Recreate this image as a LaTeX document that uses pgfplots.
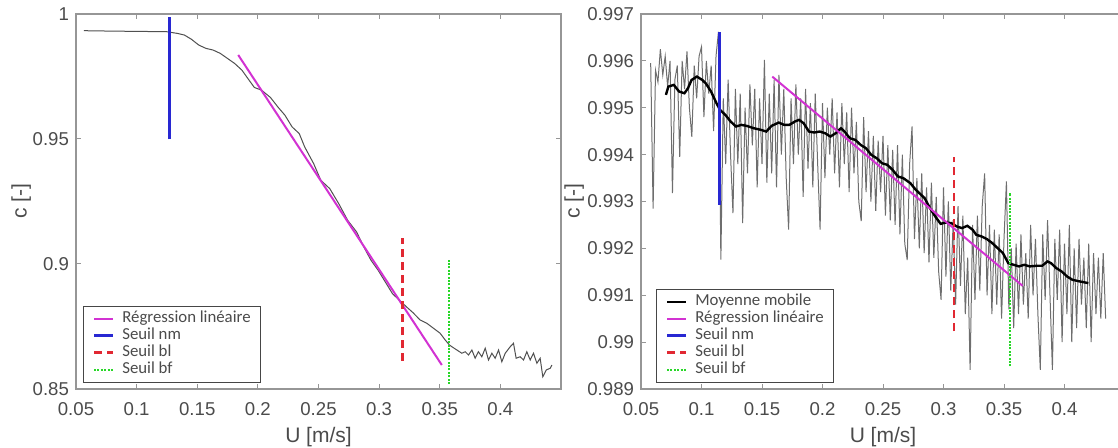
\documentclass[border=0pt]{standalone}
\usepackage{fontspec}
\setmainfont{Liberation Sans}
\newfontfamily\carlito{Carlito}
\usepackage{pgfplots}
\pgfplotsset{compat=1.18}

\definecolor{axgray}{RGB}{150,150,150}
\definecolor{txtgray}{RGB}{75,75,75}
\definecolor{cmag}{RGB}{210,50,210}
\definecolor{cblue}{RGB}{40,40,210}
\definecolor{cred}{RGB}{225,40,50}
\definecolor{cgreen}{RGB}{40,215,40}
\definecolor{cdata}{RGB}{80,80,80}
\definecolor{cnoise}{RGB}{110,110,110}
\definecolor{legdraw}{RGB}{70,70,70}

\pgfplotsset{
  mystyle/.style={
    scale only axis, height=187.5pt, anchor=south west,
    axis line style={axgray, line width=0.6pt},
    tick style={axgray, line width=0.5pt},
    major tick length=2.5pt,
    tick align=inside,
    ticklabel style={font=\fontsize{9.3}{10}\selectfont, text=txtgray},
    scaled x ticks=false, scaled y ticks=false,
    xmin=0.05, xmax=0.45,
    xtick={0.05,0.1,0.15,0.2,0.25,0.3,0.35,0.4},
    xticklabels={0.05,0.1,0.15,0.2,0.25,0.3,0.35,0.4},
    xticklabel style={anchor=center, yshift=-10pt},
    xlabel={U [m/s]},
    xlabel style={at={(axis description cs:0.5,-0.128)}, anchor=center},
    ylabel={c [-]},
    label style={font=\fontsize{10.5}{12}\selectfont, text=txtgray},
    legend cell align=left,
    legend image code/.code={\draw[##1] (0pt,0pt) -- (9.5pt,0pt);},
    legend style={at={(axis description cs:0,0)}, anchor=south west, xshift=3.5pt, yshift=3pt,
      draw=legdraw, line width=0.7pt, fill=white,
      font=\carlito\fontsize{8.4}{9}\selectfont, text=txtgray,
      inner xsep=4.5pt, inner ysep=2pt, row sep=0pt,
      nodes={text height=5.8pt, text depth=1.7pt, inner sep=0.5pt},
      /tikz/every odd column/.append style={column sep=3.5pt}},
  }
}

\begin{document}
\begin{tikzpicture}
%%%%%%%%%%%%%%%% LEFT %%%%%%%%%%%%%%%%
\begin{axis}[mystyle, at={(38pt,29.5pt)}, width=242.5pt,
  ymin=0.85, ymax=1, ytick={0.85,0.9,0.95,1},
  yticklabels={0.85,0.9,0.95,1},
  ylabel style={at={(axis description cs:-0.113,0.5)}, anchor=center},
]
\addplot[cdata, line width=0.5pt, forget plot] coordinates {
(0.0565,0.99332)(0.0743,0.99319)(0.0980,0.99305)(0.1246,0.99292)(0.1335,0.99225)
(0.1394,0.99158)(0.1453,0.98985)(0.1512,0.98758)(0.1572,0.98624)(0.1631,0.98557)
(0.1690,0.98424)(0.1749,0.98223)(0.1808,0.98023)(0.1868,0.97756)(0.1927,0.97355)
(0.1971,0.97061)(0.2030,0.96954)(0.2104,0.96660)(0.2164,0.96286)(0.2223,0.95952)
(0.2282,0.95485)(0.2341,0.95218)(0.2386,0.94683)(0.2460,0.94015)(0.2519,0.93348)
(0.2593,0.93014)(0.2667,0.92412)(0.2741,0.91745)(0.2815,0.91277)(0.2874,0.90676)
(0.2934,0.90142)(0.2993,0.89741)(0.3052,0.89273)(0.3111,0.88806)(0.3170,0.88539)
(0.3229,0.88271)(0.3280,0.88050)(0.3338,0.8776)(0.3393,0.8763)(0.3448,0.8743)
(0.3503,0.8723)(0.3545,0.8696)(0.3580,0.8676)
(0.3600,0.8669)(0.3641,0.8656)(0.3682,0.8643)(0.3710,0.8649)(0.3737,0.8636)
(0.3765,0.8656)(0.3792,0.8623)(0.3819,0.8649)(0.3847,0.8629)(0.3875,0.8663)
(0.3902,0.8616)(0.3930,0.8643)(0.3957,0.8623)(0.3985,0.8656)(0.4012,0.8609)
(0.4040,0.8643)(0.4081,0.8669)(0.4108,0.8683)(0.4130,0.8623)(0.4163,0.8629)
(0.4191,0.8616)(0.4218,0.8649)(0.4246,0.8616)(0.4273,0.8643)(0.4301,0.8603)
(0.4328,0.8623)(0.4350,0.8549)(0.4378,0.8576)(0.4411,0.8583)(0.4425,0.8596)
};
\addplot[cmag, line width=1pt] coordinates {(0.1838,0.9836)(0.3517,0.8596)};
\addlegendentry{Régression linéaire}
\addplot[cblue, line width=1.3pt] coordinates {(0.127,0.9498)(0.127,0.9987)};
\addlegendentry{Seuil nm}
\addplot[cred, line width=1.3pt, dash pattern=on 4pt off 2.5pt] coordinates {(0.3194,0.8611)(0.3194,0.9105)};
\addlegendentry{Seuil bl}
\addplot[cgreen, line width=1pt, dash pattern=on 1pt off 0.7pt] coordinates {(0.358,0.8520)(0.358,0.9014)};
\addlegendentry{Seuil bf}
\end{axis}

%%%%%%%%%%%%%%%% RIGHT %%%%%%%%%%%%%%%%
\begin{axis}[mystyle, at={(320.5pt,29.5pt)}, width=242pt,
  ymin=0.989, ymax=0.997,
  ytick={0.989,0.99,0.991,0.992,0.993,0.994,0.995,0.996,0.997},
  yticklabels={0.989,0.99,0.991,0.992,0.993,0.994,0.995,0.996,0.997},
  ylabel style={at={(axis description cs:-0.138,0.5)}, anchor=center},
  legend style={xshift=4pt},
]
\addplot[cnoise, line width=0.5pt, forget plot] coordinates {
(0.058,0.99595)(0.060,0.99285)(0.062,0.99580)(0.064,0.99555)(0.066,0.99625)
(0.068,0.99570)(0.070,0.99610)(0.072,0.99545)(0.074,0.99600)(0.076,0.99318)
(0.078,0.99560)(0.080,0.99590)(0.082,0.99395)(0.084,0.99600)(0.086,0.99540)
(0.088,0.99620)(0.090,0.99500)(0.092,0.99438)(0.094,0.99590)(0.096,0.99520)
(0.098,0.99610)(0.100,0.99630)(0.102,0.99480)(0.104,0.99600)(0.106,0.99530)
(0.108,0.99590)(0.110,0.99450)(0.112,0.99610)(0.114,0.99662)(0.116,0.99176)
(0.118,0.99520)(0.120,0.99380)(0.122,0.99560)(0.124,0.99400)(0.126,0.99275)
(0.128,0.99540)(0.130,0.99380)(0.132,0.99530)(0.134,0.99254)(0.136,0.99500)
(0.138,0.99360)(0.140,0.99550)(0.142,0.99420)(0.144,0.99540)(0.146,0.99330)
(0.148,0.99520)(0.150,0.99380)(0.152,0.99602)(0.154,0.99340)(0.156,0.99530)
(0.158,0.99360)(0.160,0.99560)(0.162,0.99330)(0.164,0.99570)(0.166,0.99400)
(0.168,0.99540)(0.170,0.99350)(0.172,0.99240)(0.174,0.99520)(0.176,0.99380)
(0.178,0.99550)(0.180,0.99400)(0.182,0.99520)(0.184,0.99310)(0.186,0.99540)
(0.188,0.99370)(0.190,0.99510)(0.192,0.99330)(0.194,0.99530)(0.196,0.99380)
(0.198,0.99240)(0.200,0.99510)(0.202,0.99350)(0.204,0.99500)(0.206,0.99400)
(0.208,0.99520)(0.210,0.99360)(0.212,0.99490)(0.214,0.99330)(0.216,0.99510)
(0.218,0.99380)(0.220,0.99490)(0.222,0.99320)(0.224,0.99500)(0.226,0.99360)
(0.228,0.99470)(0.230,0.99300)(0.232,0.99258)(0.234,0.99480)(0.236,0.99320)
(0.238,0.99450)(0.240,0.99300)(0.242,0.99440)(0.244,0.99280)(0.246,0.99430)
(0.248,0.99320)(0.250,0.99440)(0.252,0.99270)(0.254,0.99420)(0.256,0.99260)
(0.258,0.99410)(0.260,0.99250)(0.262,0.99420)(0.264,0.99230)(0.266,0.99400)
(0.268,0.99210)(0.270,0.99175)(0.272,0.99380)(0.274,0.99460)(0.276,0.99220)
(0.278,0.99350)(0.280,0.99200)(0.282,0.99360)(0.284,0.99190)(0.286,0.99330)
(0.288,0.99170)(0.290,0.99340)(0.292,0.99180)(0.294,0.99310)(0.296,0.99150)
(0.298,0.99090)(0.300,0.99330)(0.302,0.99140)(0.304,0.99300)(0.306,0.99110)
(0.308,0.99260)(0.310,0.99080)(0.312,0.99290)(0.314,0.99120)(0.316,0.99270)
(0.318,0.99060)(0.320,0.99180)(0.322,0.98941)(0.324,0.99250)(0.326,0.99090)
(0.328,0.99270)(0.330,0.99110)(0.332,0.99290)(0.334,0.99360)(0.336,0.99100)
(0.338,0.99250)(0.340,0.99060)(0.342,0.99240)(0.344,0.99080)(0.346,0.99230)
(0.348,0.99050)(0.350,0.99220)(0.352,0.99343)(0.354,0.99070)(0.356,0.99200)
(0.358,0.99030)(0.360,0.99210)(0.362,0.99060)(0.364,0.99230)(0.366,0.99080)
(0.368,0.99190)(0.370,0.99050)(0.372,0.99250)(0.374,0.99100)(0.376,0.99220)
(0.378,0.99060)(0.380,0.98941)(0.382,0.99230)(0.384,0.99090)(0.386,0.99260)
(0.388,0.99100)(0.390,0.98941)(0.392,0.99220)(0.394,0.99090)(0.396,0.99240)
(0.398,0.99000)(0.400,0.99210)(0.402,0.99060)(0.404,0.99250)(0.406,0.99000)
(0.408,0.99200)(0.410,0.99030)(0.412,0.99220)(0.414,0.99080)(0.416,0.99180)
(0.418,0.99030)(0.420,0.99210)(0.422,0.99000)(0.424,0.99190)(0.426,0.99060)
(0.428,0.99180)(0.430,0.99050)(0.432,0.99190)(0.434,0.99050)
};
\addplot[black, line width=1.2pt] coordinates {
(0.0706,0.995274)(0.0726,0.995451)(0.0771,0.995487)(0.0815,0.995345)(0.0859,0.995309)
(0.0888,0.995416)(0.0918,0.995593)(0.0962,0.995664)(0.1006,0.995593)(0.1035,0.995522)
(0.1079,0.995345)(0.1124,0.995096)(0.1153,0.994954)(0.1197,0.994847)(0.1241,0.994705)
(0.1285,0.994599)(0.1329,0.994634)(0.1374,0.994613)(0.1432,0.994563)(0.1491,0.994528)
(0.1535,0.994492)(0.1579,0.994613)(0.1638,0.994684)(0.1682,0.994634)(0.1726,0.994634)
(0.1771,0.994705)(0.1806,0.994741)(0.1844,0.994670)(0.1888,0.994492)(0.1932,0.994471)
(0.1976,0.994492)(0.2021,0.994457)(0.2065,0.994385)(0.2109,0.994457)(0.2153,0.994563)
(0.2182,0.994492)(0.2226,0.994350)(0.2271,0.994314)(0.2315,0.994208)(0.2359,0.994137)
(0.2403,0.993995)(0.2447,0.993924)(0.2491,0.993817)(0.2535,0.993782)(0.2579,0.993675)
(0.2624,0.993533)(0.2668,0.993497)(0.2726,0.993391)(0.2771,0.993249)(0.2800,0.993178)
(0.2844,0.993071)(0.2888,0.992858)(0.2932,0.992680)(0.2976,0.992524)(0.3021,0.992552)
(0.3065,0.992538)(0.3109,0.992467)(0.3153,0.992432)(0.3197,0.992481)(0.3241,0.992396)
(0.3271,0.992289)(0.3315,0.992254)(0.3359,0.992197)(0.3403,0.992112)(0.3447,0.992005)
(0.3491,0.991899)(0.3535,0.991686)(0.3579,0.991650)(0.3624,0.991615)(0.3668,0.991650)
(0.3712,0.991615)(0.3771,0.991629)(0.3815,0.991629)(0.3859,0.991721)(0.3888,0.991686)
(0.3932,0.991579)(0.3976,0.991508)(0.4021,0.991401)(0.4065,0.991330)(0.4124,0.991295)
(0.4197,0.991259)
};
\addlegendentry{Moyenne mobile}
\addplot[cmag, line width=1pt] coordinates {(0.1585,0.995664)(0.3653,0.991202)};
\addlegendentry{Régression linéaire}
\addplot[cblue, line width=1.3pt] coordinates {(0.1147,0.99293)(0.1147,0.99661)};
\addlegendentry{Seuil nm}
\addplot[cred, line width=1.3pt, dash pattern=on 4pt off 2.5pt] coordinates {(0.3088,0.99023)(0.3088,0.99394)};
\addlegendentry{Seuil bl}
\addplot[cgreen, line width=1pt, dash pattern=on 1pt off 0.7pt] coordinates {(0.355,0.98948)(0.355,0.99319)};
\addlegendentry{Seuil bf}
\end{axis}
\pgfresetboundingbox
\path[use as bounding box] (0,0) rectangle (559pt,224pt);
\end{tikzpicture}
\end{document}
